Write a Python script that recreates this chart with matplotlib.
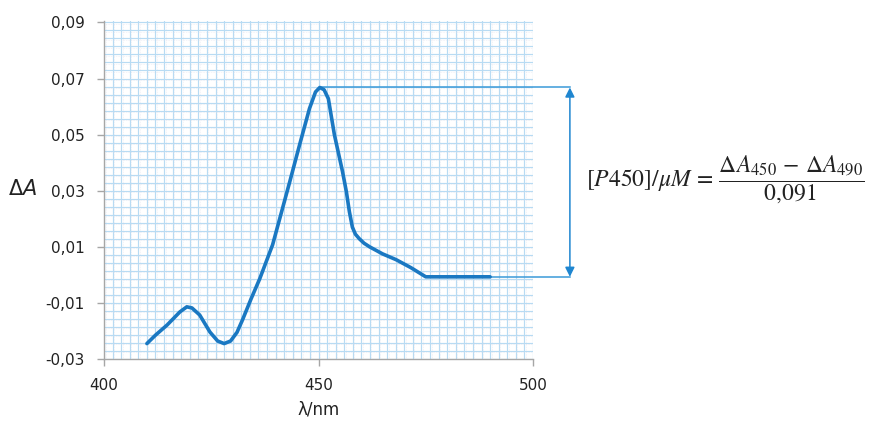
import matplotlib

matplotlib.use("Agg")

import matplotlib.pyplot as plt
import numpy as np

# Difference spectrum
wavelength = [410, 412, 414.7, 417.7, 419.3, 420.5, 422.3, 424.7, 426.5, 428,
              429.5, 431, 432.3, 434.3, 436.3, 439.3, 441.4, 443.3, 445.6, 447.9,
              449.3, 450.3, 451.3, 452.3, 453.7, 455.6, 456.5, 457.2, 457.9, 458.6,
              459.5, 460.6, 461.9, 464.9, 468.1, 471.5, 475, 490]
delta_a = [-0.0245, -0.0215, -0.0179, -0.0132, -0.0114, -0.0118, -0.0143, -0.0204,
           -0.0236, -0.0245, -0.0236, -0.0205, -0.0160, -0.0085, -0.0014, 0.0107,
           0.0225, 0.0332, 0.0464, 0.0593, 0.0652, 0.0668, 0.0660, 0.0628, 0.0500,
           0.0368, 0.0296, 0.0225, 0.0170, 0.0145, 0.0129, 0.0113, 0.0100, 0.0075,
           0.0054, 0.0026, -0.0007, -0.0007]

x_ticks = [400, 450, 500]
y_ticks = [-0.03, -0.01, 0.01, 0.03, 0.05, 0.07, 0.09]
y_labels = ["-0,03", "-0,01", "0,01", "0,03", "0,05", "0,07", "0,09"]

plt.rcParams["font.family"] = ["DejaVu Sans"]
plt.rcParams["mathtext.fontset"] = "stix"

fig = plt.figure(figsize=(8.7, 4.21), dpi=100)
ax = fig.add_axes([104 / 870, 1 - 359 / 421, 429 / 870, 338 / 421])

ax.set_xlim(400, 500)
ax.set_ylim(-0.03, 0.0905)

# graph-paper grid
for gx in np.arange(400, 501, 2):
    ax.axvline(gx, color="#b8dbf3", lw=0.85, zorder=0)
    ax.axvline(gx + 0.35, color="#dcdcea", lw=0.4, ls=(0, (1, 2)), zorder=0)
for gy in np.linspace(-0.03, 0.09, 43):
    ax.axhline(gy, color="#b8dbf3", lw=0.85, zorder=0)
    ax.axhline(gy - 0.0004, color="#dcdcea", lw=0.4, ls=(0, (1, 2)), zorder=0)

# spectrum
ax.plot(wavelength, delta_a, color="#1a78c2", lw=2.6, solid_capstyle="round",
        solid_joinstyle="round", zorder=3)

# guide lines and double arrow
peak_i = int(np.argmax(delta_a))
x_arrow = 508.6
ax.plot([wavelength[peak_i], x_arrow], [delta_a[peak_i]] * 2, color="#3b9ad8",
        lw=1.1, clip_on=False, zorder=2)
ax.plot([wavelength[-2], x_arrow], [delta_a[-1]] * 2, color="#3b9ad8",
        lw=1.1, clip_on=False, zorder=2)
ax.annotate("", xy=(x_arrow, delta_a[peak_i]), xytext=(x_arrow, delta_a[-1]),
            arrowprops=dict(arrowstyle="<|-|>", color="#1f86d0", lw=1.1,
                            mutation_scale=14, shrinkA=0, shrinkB=0),
            annotation_clip=False)

# axes styling
for s in ["top", "right"]:
    ax.spines[s].set_visible(False)
for s in ["left", "bottom"]:
    ax.spines[s].set_color("#a6a6a6")
    ax.spines[s].set_linewidth(1.0)
ax.set_xticks(x_ticks)
ax.set_yticks(y_ticks)
ax.set_yticklabels(y_labels)
ax.tick_params(axis="both", colors="#a6a6a6", length=5, width=1.0,
               labelcolor="#222222", labelsize=11)
ax.tick_params(axis="y", pad=9)
ax.tick_params(axis="x", pad=9)

ax.set_xlabel("λ/nm", fontsize=12, color="#222222", labelpad=5)
fig.text(9 / 870, 1 - 189 / 421, "Δ", fontsize=15, ha="left",
         va="center", color="#222222")
fig.text(22 / 870, 1 - 189 / 421, "A", fontsize=15, ha="left", style="italic",
         va="center", color="#222222")

fig.text(586 / 870, 1 - 179 / 421,
         r"$[P450]/\mu M\,=\,\dfrac{\Delta A_{450}\,-\,\Delta A_{490}}{0{,}091}$",
         fontsize=17, ha="left", va="center", color="#222222")

fig.savefig("out.png", dpi=100)
plt.close()
